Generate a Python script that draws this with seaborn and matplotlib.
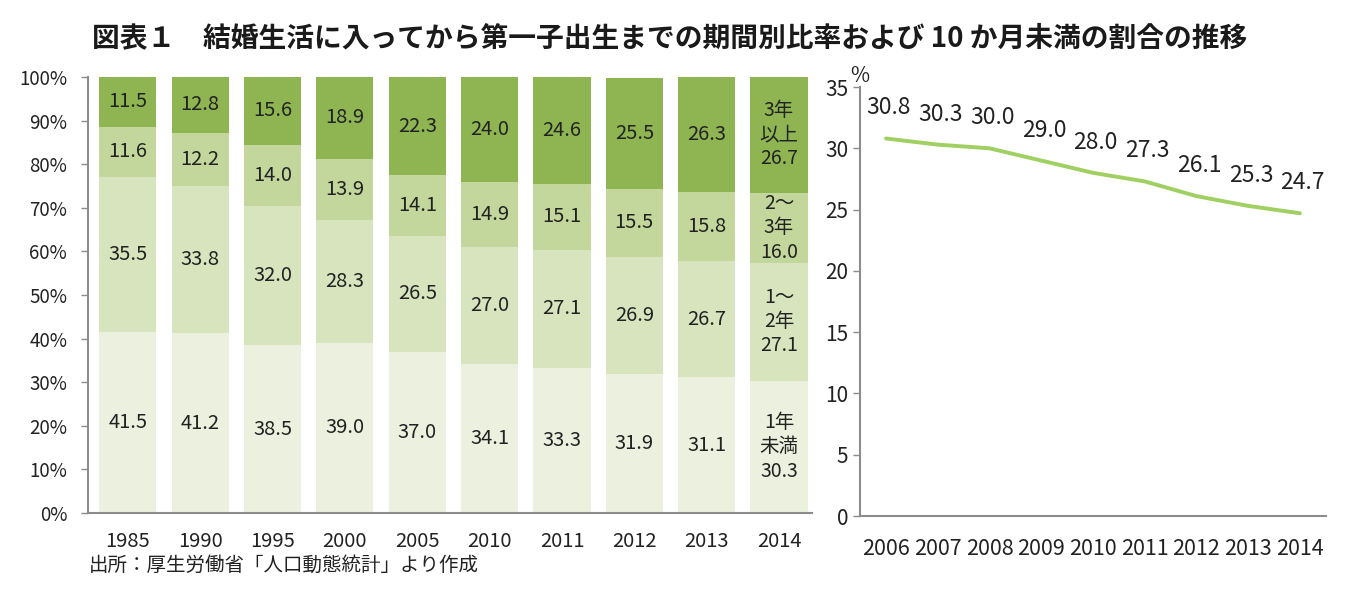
import numpy as np
import pandas as pd
import matplotlib.pyplot as plt
import seaborn as sns
from matplotlib.ticker import FixedLocator

# data
years = ['1985', '1990', '1995', '2000', '2005', '2010', '2011', '2012', '2013', '2014']
under1 = [41.5, 41.2, 38.5, 39.0, 37.0, 34.1, 33.3, 31.9, 31.1, 30.3]
y1to2 = [35.5, 33.8, 32.0, 28.3, 26.5, 27.0, 27.1, 26.9, 26.7, 27.1]
y2to3 = [11.6, 12.2, 14.0, 13.9, 14.1, 14.9, 15.1, 15.5, 15.8, 16.0]
over3 = [11.5, 12.8, 15.6, 18.9, 22.3, 24.0, 24.6, 25.5, 26.3, 26.7]
seg_names = ['1年\n未満', '1～\n2年', '2～\n3年', '3年\n以上']

line_years = ['2006', '2007', '2008', '2009', '2010', '2011', '2012', '2013', '2014']
under10m = [30.8, 30.3, 30.0, 29.0, 28.0, 27.3, 26.1, 25.3, 24.7]

colors = ['#ebf1de', '#d7e4bd', '#c3d69b', '#8fb553']
line_color = '#a0cf62'
spine_c = '#8c8c8c'
txt_c = '#222222'

sns.set_style('white')
plt.rcParams['font.family'] = ['Noto Sans CJK JP', 'DejaVu Sans']

fig = plt.figure(figsize=(13.46, 5.94), dpi=100)
ax1 = fig.add_axes([0.0654, 0.1364, 0.5376, 0.734])
ax2 = fig.add_axes([0.639, 0.1313, 0.346, 0.7222])

# stacked bars (draw cumulative totals from top to bottom)
layers = [under1, y1to2, y2to3, over3]
cum = np.cumsum(np.array(layers), axis=0)
df = pd.DataFrame({'year': years})
for i in range(3, -1, -1):
    df['v'] = cum[i]
    sns.barplot(df, x='year', y='v', color=colors[i], width=0.79,
                saturation=1, linewidth=0, ax=ax1, zorder=2)

# segment labels
for j, yr in enumerate(years):
    for i in range(4):
        lo = cum[i - 1][j] if i > 0 else 0
        mid = lo + layers[i][j] / 2
        if j == len(years) - 1:
            s = seg_names[i] + '\n' + f'{layers[i][j]:.1f}'
            ax1.text(j, mid, s, ha='center', va='center', fontsize=14,
                     color=txt_c, linespacing=1.2)
        else:
            ax1.text(j, mid, f'{layers[i][j]:.1f}', ha='center', va='center',
                     fontsize=14.5, color=txt_c)

ax1.set_ylim(0, 100)
ax1.set_xlim(-0.55, 9.45)
ax1.set_yticks(range(0, 101, 10))
ax1.set_yticklabels([f'{v}%' for v in range(0, 101, 10)])
ax1.xaxis.set_minor_locator(FixedLocator(np.arange(-0.5, 10, 1)))
ax1.tick_params(axis='x', which='major', length=0, pad=13, labelsize=14.5, colors=txt_c)
ax1.tick_params(axis='x', which='minor', length=6, width=1, color=spine_c, direction='out')
ax1.tick_params(axis='y', length=5, width=1, color=spine_c, labelsize=13.5,
                labelcolor=txt_c, left=True, pad=10)
ax1.set_xlabel(None)
ax1.set_ylabel(None)
for s in ['top', 'right']:
    ax1.spines[s].set_visible(False)
for s in ['left', 'bottom']:
    ax1.spines[s].set_color(spine_c)
    ax1.spines[s].set_linewidth(1.5)

# line chart
ldf = pd.DataFrame({'year': np.arange(len(line_years)), 'pct': under10m})
sns.lineplot(ldf, x='year', y='pct', color=line_color, linewidth=2.8, ax=ax2)
for x, v in zip(ldf['year'], under10m):
    ax2.annotate(f'{v:.1f}', (x, v), xytext=(2, 22), textcoords='offset points',
                 ha='center', va='center', fontsize=16.5, color=txt_c)
ax2.set_xlim(-0.5, len(line_years) - 0.5)
ax2.set_ylim(0, 35)
ax2.set_yticks(range(0, 36, 5))
ax2.set_xticks(range(len(line_years)))
ax2.set_xticklabels(line_years)
ax2.xaxis.set_minor_locator(FixedLocator(np.arange(-0.5, len(line_years), 1)))
ax2.tick_params(axis='x', which='major', length=0, pad=16, labelsize=15.5, colors=txt_c)
ax2.tick_params(axis='x', which='minor', length=6, width=1, color=spine_c, direction='out')
ax2.tick_params(axis='y', length=5, width=1, color=spine_c, labelsize=15,
                labelcolor=txt_c, left=True)
ax2.set_xlabel(None)
ax2.set_ylabel(None)
for s in ['top', 'right']:
    ax2.spines[s].set_visible(False)
for s in ['left', 'bottom']:
    ax2.spines[s].set_color(spine_c)
    ax2.spines[s].set_linewidth(1.5)
ax2.text(0, 1.0, '%', transform=ax2.transAxes, ha='center', va='bottom',
         fontsize=15, color=txt_c)

fig.text(0.068, 0.935, '図表１　結婚生活に入ってから第一子出生までの期間別比率および 10 か月未満の割合の推移',
         fontsize=20, fontweight='bold', color='#1a1a1a', va='center')
fig.text(0.066, 0.048, '出所：厚生労働省「人口動態統計」より作成',
         fontsize=14, color=txt_c, va='center')

fig.savefig('out.png', dpi=100)
